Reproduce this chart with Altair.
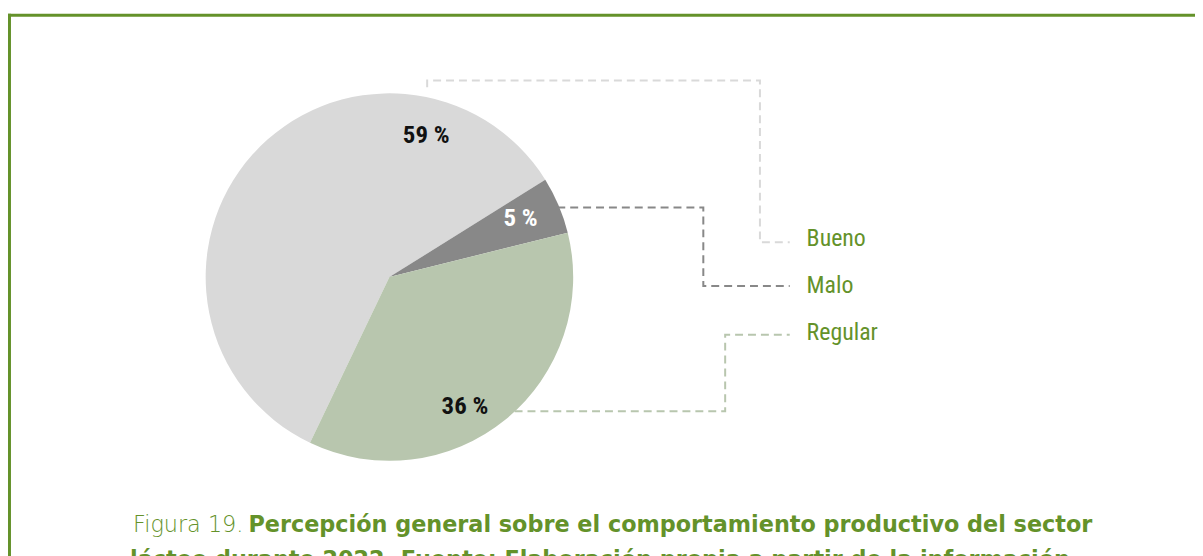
import math
import altair as alt
import pandas as pd

# ---- data ----
categories = ["Bueno", "Malo", "Regular"]
values = [59, 5, 36]
labels = ["59 %", "5 %", "36 %"]
slice_colors = ["#d9d9d9", "#888888", "#b8c6ae"]
stack_order = [2, 0, 1]

caption_light = "Figura 19."
caption_bold = "Percepción general sobre el comportamiento productivo del sector"
caption_line2 = "lácteo durante 2022. Fuente: Elaboración propia a partir de la información"

# ---- layout (chart pixel coordinates) ----
W, H = 1195, 565
CX, CY, R = 384, 269, 185
START = math.radians(58)
label_pos = {"Bueno": (421, 126), "Malo": (516, 210), "Regular": (460, 399)}
label_color = {"Bueno": "#111111", "Malo": "#ffffff", "Regular": "#111111"}
leader_paths = {
    "Bueno": [(422, 78), (422, 71), (757, 71), (757, 234), (787, 234)],
    "Malo": [(540, 199), (700, 199), (700, 278), (787, 278)],
    "Regular": [(484, 404), (722, 404), (722, 327), (787, 327)],
}
legend_y = {"Bueno": 231, "Malo": 278, "Regular": 325}
GREEN = "#64922a"
COND = "Liberation Sans Narrow, Roboto Condensed, Arial Narrow, Roboto, sans-serif"
CAP = "DejaVu Sans, Open Sans, sans-serif"
CAP_SIZE = 22.5

df = pd.DataFrame({"cat": categories, "val": values, "lab": labels,
                   "ord": stack_order})
df["lx"] = [label_pos[c][0] for c in categories]
df["ly"] = [label_pos[c][1] for c in categories]
df["lc"] = [label_color[c] for c in categories]
df["gy"] = [legend_y[c] for c in categories]

rows = []
for c in categories:
    for i, (px, py) in enumerate(leader_paths[c]):
        rows.append({"cat": c, "step": i, "px": px, "py": py})
lead = pd.DataFrame(rows)

color = alt.Color("cat:N", scale=alt.Scale(domain=categories, range=slice_colors),
                  legend=None)

pie = alt.Chart(df).mark_arc(outerRadius=R, stroke=None).encode(
    theta=alt.Theta("val:Q", stack=True,
                    scale=alt.Scale(domain=[0, 100], range=[START, START + 2 * math.pi])),
    order=alt.Order("ord:Q"),
    color=color,
    x=alt.value(CX), y=alt.value(CY),
)

pct = alt.Chart(df).mark_text(font=COND, fontSize=25, fontWeight="bold",
                              align="center", baseline="middle").encode(
    x=alt.X("lx:Q", scale=None), y=alt.Y("ly:Q", scale=None),
    text="lab:N", color=alt.Color("lc:N", scale=None),
)

leaders = alt.Chart(lead).mark_line(strokeWidth=2, strokeDash=[8, 5]).encode(
    x=alt.X("px:Q", scale=None), y=alt.Y("py:Q", scale=None),
    detail="cat:N", order="step:Q", color=color,
)

legend_txt = alt.Chart(df).mark_text(font=COND, fontSize=24, align="left",
                                     baseline="middle", color=GREEN).encode(
    x=alt.value(804), y=alt.Y("gy:Q", scale=None), text="cat:N",
)

cap1a = alt.Chart(pd.DataFrame({"t": [caption_light]})).mark_text(
    font=CAP, fontSize=CAP_SIZE, fontWeight=200, align="right", baseline="alphabetic",
    color=GREEN).encode(x=alt.value(237), y=alt.value(526), text="t:N")
cap1b = alt.Chart(pd.DataFrame({"t": [caption_bold]})).mark_text(
    font=CAP, fontSize=CAP_SIZE, fontWeight="bold", align="left", baseline="alphabetic",
    color=GREEN).encode(x=alt.value(242), y=alt.value(526), text="t:N")
cap2 = alt.Chart(pd.DataFrame({"t": [caption_line2]})).mark_text(
    font=CAP, fontSize=CAP_SIZE, fontWeight="bold", align="center", baseline="alphabetic",
    color=GREEN).encode(x=alt.value(596), y=alt.value(561), text="t:N")

border_left = alt.Chart(pd.DataFrame({"a": [0]})).mark_rule(
    color=GREEN, strokeWidth=3).encode(x=alt.value(1.5), y=alt.value(4), y2=alt.value(H))
border_top = alt.Chart(pd.DataFrame({"a": [0]})).mark_rule(
    color=GREEN, strokeWidth=3).encode(y=alt.value(5.5), x=alt.value(0), x2=alt.value(W))

chart = alt.layer(border_left, border_top, leaders, pie, pct, legend_txt,
                  cap1a, cap1b, cap2).properties(
    width=W, height=H, padding=0,
    autosize=alt.AutoSizeParams(type="none"),
).configure_view(stroke=None)

chart.save("out.html", embed_options={"renderer": "svg", "actions": False})
